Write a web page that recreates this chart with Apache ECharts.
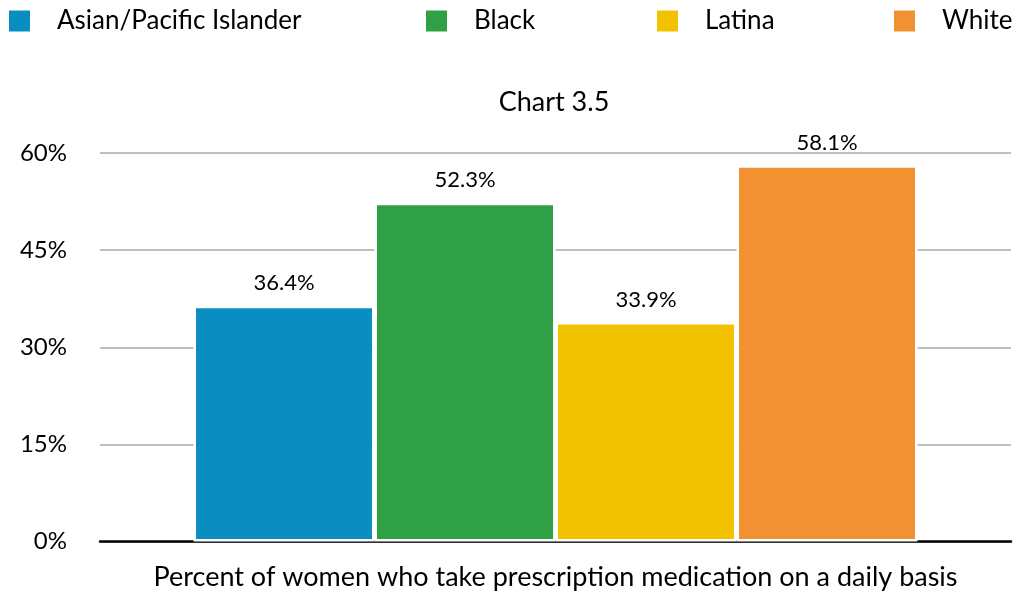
<!DOCTYPE html>
<html>
<head>
<meta charset="utf-8">
<script src="https://cdn.jsdelivr.net/npm/echarts@6/dist/echarts.min.js"></script>
<style>
  html, body { margin: 0; padding: 0; background: #fff; }
  #chart { width: 1026px; height: 592px; }
</style>
</head>
<body>
<div id="chart"></div>
<script>
// Chart 3.5 – daily prescription medication use by group
const categories = ['Percent of women who take prescription medication on a daily basis'];
const groups = ['Asian/Pacific Islander', 'Black', 'Latina', 'White'];
const values = [36.4, 52.3, 33.9, 58.1];
const colors = ['#0a8dc1', '#30a046', '#f2c100', '#f29131'];
const yTicks = { min: 0, max: 60, interval: 15 };

const FONT = 'Lato, "Open Sans", sans-serif';
const legendLefts = [9, 426, 657, 894];

const chart = echarts.init(document.getElementById('chart'), null, { renderer: 'canvas' });

// one legend block per group so each sits at its own column
const legends = groups.map((g, i) => ({
  data: [g],
  left: legendLefts[i],
  top: 8,
  padding: 0,
  orient: 'horizontal',
  icon: 'rect',
  itemWidth: 21,
  itemHeight: 21,
  selectedMode: false,
  itemStyle: { borderWidth: 0 },
  textStyle: { fontFamily: FONT, fontSize: 26, color: '#000', padding: [0, 0, 0, 22] }
}));

const series = groups.map((g, i) => ({
  name: g,
  type: 'bar',
  data: [values[i]],
  barWidth: 181,
  barGap: '0%',
  itemStyle: { color: colors[i], borderColor: '#fff', borderWidth: 2.5 },
  label: {
    show: true,
    position: 'top',
    distance: 11.5,
    formatter: '{c}%',
    fontFamily: FONT,
    fontSize: 22,
    color: '#000'
  }
}));

chart.setOption({
  animation: false,
  color: colors,
  title: {
    text: 'Chart 3.5',
    left: 549,
    textAlign: 'center',
    top: 84,
    textStyle: { fontFamily: FONT, fontSize: 27, fontWeight: 'normal', color: '#000' }
  },
  legend: legends,
  grid: { left: 100, right: 15, top: 153, bottom: 50.5, containLabel: false },
  xAxis: {
    type: 'category',
    data: categories,
    axisLine: { show: true, lineStyle: { color: '#000', width: 2.5 } },
    axisTick: { show: false },
    axisLabel: { fontFamily: FONT, fontSize: 27, color: '#000', margin: 22 }
  },
  yAxis: {
    type: 'value',
    min: yTicks.min,
    max: yTicks.max,
    interval: yTicks.interval,
    axisLine: { show: false },
    axisTick: { show: false },
    axisLabel: { formatter: '{value}%', fontFamily: FONT, fontSize: 24, color: '#000', margin: 33 },
    splitLine: { lineStyle: { color: '#bfbfbf', width: 2 } }
  },
  series: series
});
</script>
</body>
</html>
